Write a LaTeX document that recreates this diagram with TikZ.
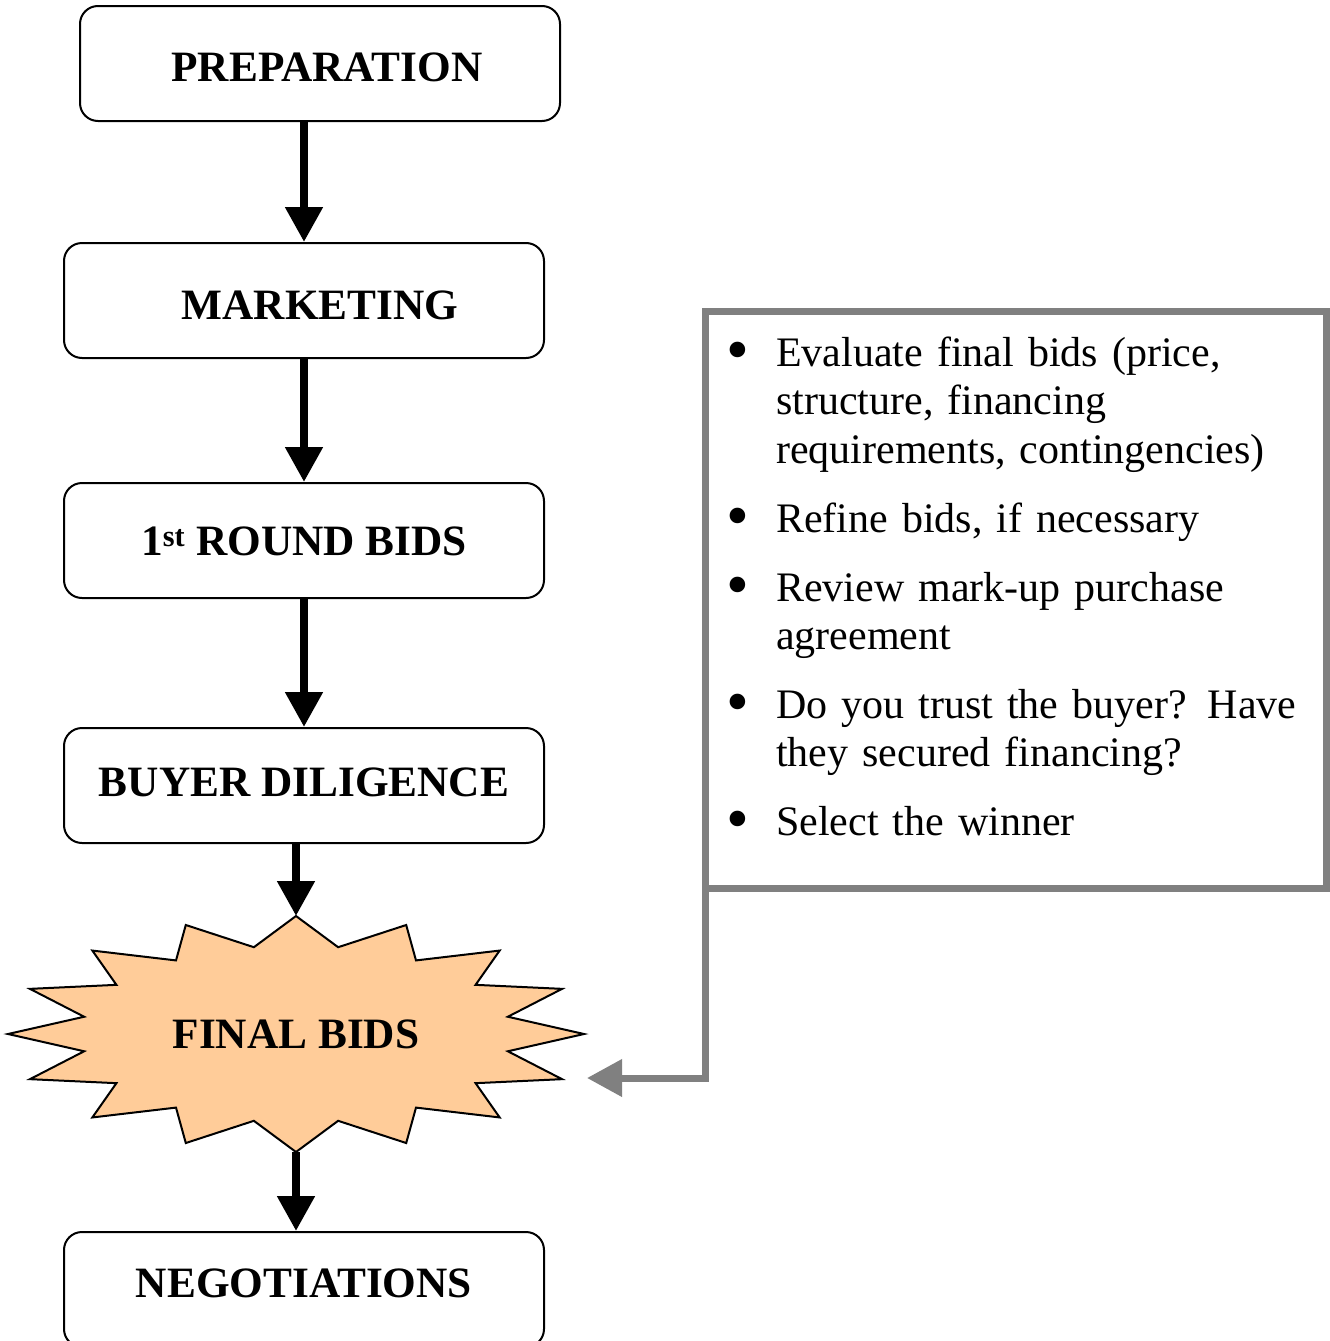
\documentclass[tikz,border=0pt]{standalone}
\usepackage{fontspec}
\setmainfont{Liberation Serif}
\usetikzlibrary{arrows.meta}
\definecolor{peach}{HTML}{FFCC99}
\definecolor{boxgray}{HTML}{808080}
\newcommand{\bigbul}{\raisebox{-5pt}{\scalebox{1.55}{\textbullet}}}
\newcommand{\lblshift}[2]{\raisebox{#1}[\height][\depth]{#2}}
\begin{document}
\frenchspacing
\begin{tikzpicture}[x=1pt,y=-1pt,
  stage/.style={draw, line width=2pt, rounded corners=18pt, minimum width=480pt,
    minimum height=115pt, inner sep=0pt, font=\fontsize{43.3}{48}\selectfont\bfseries},
  flow/.style={line width=8pt, -{Triangle[width=36pt,length=35pt]}},
  burst/.style={draw, line width=2pt, fill=peach, line join=miter},
  notesbox/.style={draw=boxgray, line width=7pt, minimum width=621.5pt,
    minimum height=577.5pt, inner sep=0pt, outer sep=0pt},
  notestxt/.style={anchor=north west, inner sep=0pt, text width=600pt, align=left,
    font=\fontsize{42}{48.3}\selectfont},
  feedback/.style={draw=boxgray, line width=7pt,
    -{Triangle[width=36pt,length=35pt]}, boxgray}]
\useasboundingbox (0,0) rectangle (1330,1341);

\node[stage] (prep) at (320,63.5) {\lblshift{-4pt}{\hspace*{14pt}PREPARATION}};
\node[stage] (mark) at (304,300.5) {\lblshift{-5pt}{\hspace*{32pt}MARKETING}};
\node[stage] (r1) at (304,540.5) {\lblshift{-1pt}{1\textsuperscript{st} ROUND BIDS}};
\node[stage] (buy) at (304,785.5) {\lblshift{3pt}{BUYER DILIGENCE}};
\node[stage] (neg) at (304,1289.5) {\lblshift{6pt}{NEGOTIATIONS}};

\begin{scope}[shift={(296,1034)}]
  \draw[burst] (90:288 and 118)
    \foreach \a in {0,22.5,...,337.5}{ -- ({90-\a-11.25}:216 and 88.5) -- ({90-\a-22.5}:288 and 118)} -- cycle;
\end{scope}
\node[font=\fontsize{43.3}{48}\selectfont\bfseries, inner sep=0pt] (fb) at (296,1034) {FINAL BIDS};
\coordinate (fbtop) at (296,916);
\coordinate (fbbot) at (296,1152);
\coordinate (fbin) at (587,1078);

\draw[flow] (prep.south -| mark.north) -- (mark.north);
\draw[flow] (mark.south) -- (r1.north);
\draw[flow] (r1.south) -- (buy.north);
\draw[flow] (buy.south -| fbtop) -- (fbtop);
\draw[flow] (fbbot) -- (neg.north -| fbbot);

\node[notesbox] (notes) at (1015.75,599.75) {};
\node[notestxt] (notestext) at (725,318) {%
\begin{list}{\bigbul}{\setlength\leftmargin{51pt}\setlength\labelwidth{30pt}%
\setlength\labelsep{27pt}\setlength\itemsep{20.7pt}\setlength\parsep{0pt}%
\setlength\topsep{0pt}\setlength\partopsep{0pt}\setlength\itemindent{0pt}}
\item Evaluate final bids (price,\\ structure, financing\\ requirements, contingencies)
\item Refine bids, if necessary
\item Review mark-up purchase\\ agreement
\item Do you trust the buyer?\hspace{21pt}Have\\ they secured financing?
\item Select the winner
\end{list}};

\draw[feedback] (notes.south west) |- (fbin);
\end{tikzpicture}
\end{document}
